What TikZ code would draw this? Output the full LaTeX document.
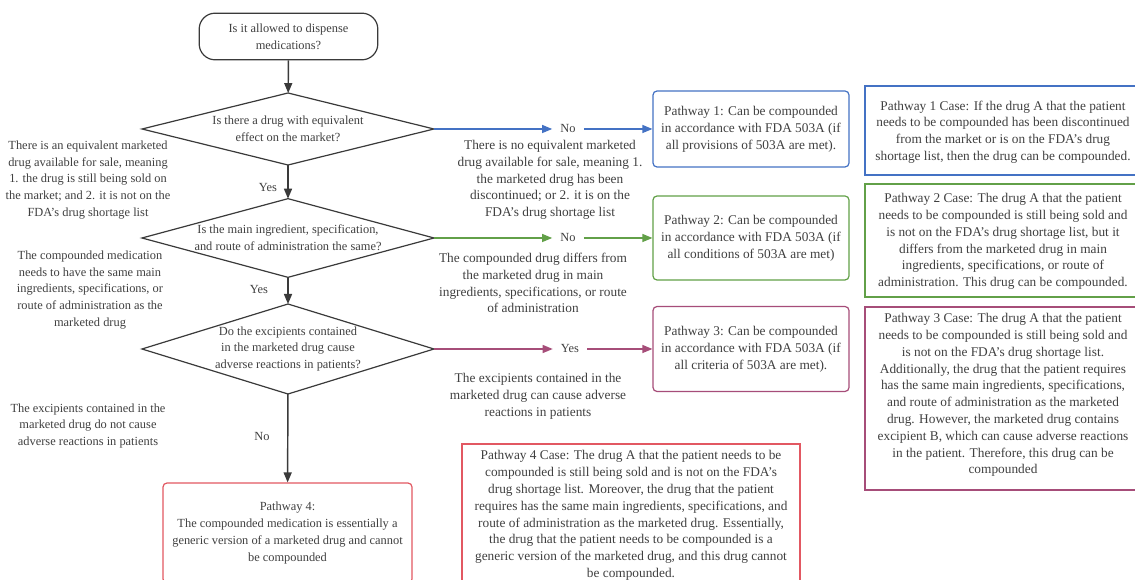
\documentclass[tikz,border=0pt]{standalone}
\usepackage{fontspec}
\setmainfont{Liberation Serif}
\usetikzlibrary{shapes.geometric,arrows.meta}

\definecolor{linegray}{RGB}{58,58,58}
\definecolor{txtgray}{RGB}{64,64,64}
\definecolor{pblue}{RGB}{68,114,196}
\definecolor{pgreen}{RGB}{98,160,72}
\definecolor{ppurple}{RGB}{166,77,121}
\definecolor{pred}{RGB}{226,88,98}

\begin{document}
\begin{tikzpicture}[x=0.75pt,y=-0.75pt,
    every node/.style={font=\fontsize{9.3}{12.6}\selectfont, text=txtgray},
    txt/.style={align=center, inner sep=0pt},
    bigtxt/.style={txt, font=\fontsize{10}{12.6}\selectfont},
    startbox/.style={draw=linegray, line width=0.9pt, rounded corners=12pt,
      minimum width=134pt, minimum height=35pt, align=center},
    decision/.style={diamond, draw=linegray, line width=0.9pt, inner sep=0pt,
      outer sep=0pt, minimum width=219pt},
    pathbox/.style={draw=#1, line width=0.9pt, rounded corners=3pt, align=center,
      minimum width=147pt},
    casebox/.style={draw=#1, line width=0.9pt, align=center, inner sep=0pt},
    mainarrow/.style={draw=linegray, line width=1.1pt,
      -{Triangle[length=7.5pt,width=6pt]}},
    colarrow/.style={draw=#1, line width=0.9pt,
      -{Triangle[length=7.5pt,width=6pt]}, fill=none},
    answer/.style={inner xsep=6pt, inner ysep=2pt}]

    % page
    \clip (0,0) rectangle (1135,580);
    \fill[white] (0,0) rectangle (1135,580);

    % main column
    \node[startbox] (start) at (288.5,36.5) {Is it allowed to dispense\\medications?};

    \node[decision, minimum height=54pt] (q1) at (288,129) {};
    \node[txt] (q1t) at (q1) {Is there a drug with equivalent\\effect on the market?};

    \node[decision, minimum height=59pt] (q2) at (288,238) {};
    \node[txt] (q2t) at (q2) {Is the main ingredient, specification,\\and route of administration the same?};

    \node[decision, minimum height=67.5pt] (q3) at (288,349) {};
    \node[txt] (q3t) at (q3) {Do the excipients contained\\in the marketed drug cause\\adverse reactions in patients?};

    \node[pathbox=pred, minimum width=186.75pt, minimum height=75pt] (p4) at (287.5,533)
      {Pathway 4:\\The compounded medication is essentially a\\generic version of a marketed drug and cannot\\be compounded};

    % arrows down
    \draw[mainarrow] (start) -- (q1);
    \draw[mainarrow] (q1) -- (q2);
    \draw[mainarrow] (q2) -- (q3);
    \draw[mainarrow] (q3) -- (p4);

    \node[txt] (yes1) at (268,188) {Yes};
    \node[txt] (yes2) at (259,290) {Yes};
    \node[txt] (no3) at (262,437) {No};

    % left notes
    \node[txt] (l1) at (88,180) {There is an equivalent marketed\\drug available for sale, meaning\\1. the drug is still being sold on\\the market; and 2. it is not on the\\FDA's drug shortage list};
    \node[txt] (l2) at (90,290) {The compounded medication\\needs to have the same main\\ingredients, specifications, or\\route of administration as the\\marketed drug};
    \node[txt] (l3) at (88,426) {The excipients contained in the\\marketed drug do not cause\\adverse reactions in patients};

    % pathway boxes
    \node[pathbox=pblue, bigtxt, minimum height=57pt] (p1) at (751,129)
      {Pathway 1: Can be compounded\\in accordance with FDA 503A (if\\all provisions of 503A are met).};
    \node[pathbox=pgreen, bigtxt, minimum height=63pt] (p2) at (751,238)
      {Pathway 2: Can be compounded\\in accordance with FDA 503A (if\\all conditions of 503A are met)};
    \node[pathbox=ppurple, bigtxt, minimum height=63.75pt] (p3) at (751,349)
      {Pathway 3: Can be compounded\\in accordance with FDA 503A (if\\all criteria of 503A are met).};

    % side branches
    \node[answer] (no1) at (568,129) {No};
    \node[answer] (no2) at (568,238) {No};
    \node[answer] (yes3) at (570,349) {Yes};

    \draw[colarrow=pblue] (q1.east) -- (no1);
    \draw[colarrow=pblue] (no1) -- (p1);
    \draw[colarrow=pgreen] (q2.east) -- (no2);
    \draw[colarrow=pgreen] (no2) -- (p2);
    \draw[colarrow=ppurple] (q3.east) -- (yes3);
    \draw[colarrow=ppurple] (yes3) -- (p3);

    \node[bigtxt] (n1) at (550,180) {There is no equivalent marketed\\drug available for sale, meaning 1.\\the marketed drug has been\\discontinued; or 2. it is on the\\FDA's drug shortage list};
    \node[bigtxt] (n2) at (533,283) {The compounded drug differs from\\the marketed drug in main\\ingredients, specifications, or route\\of administration};
    \node[bigtxt] (n3) at (538,396) {The excipients contained in the\\marketed drug can cause adverse\\reactions in patients};

    % case boxes
    \node[casebox=pblue, minimum width=206.25pt, minimum height=66.75pt] (c1) at (1002.5,130.5) {};
    \node[bigtxt] (c1t) at (1003,132) {Pathway 1 Case: If the drug A that the patient\\needs to be compounded has been discontinued\\from the market or is on the FDA's drug\\shortage list, then the drug can be compounded.};
    \node[casebox=pgreen, minimum width=206.25pt, minimum height=84.75pt] (c2) at (1002.5,240.5) {};
    \node[bigtxt] (c2t) at (1003,241.5) {Pathway 2 Case: The drug A that the patient\\needs to be compounded is still being sold and\\is not on the FDA's drug shortage list, but it\\differs from the marketed drug in main\\ingredients, specifications, or route of\\administration. This drug can be compounded.};
    \node[casebox=ppurple, minimum width=206.25pt, minimum height=137.25pt] (c3) at (1002.5,398.5) {};
    \node[bigtxt] (c3t) at (1003,395) {Pathway 3 Case: The drug A that the patient\\needs to be compounded is still being sold and\\is not on the FDA's drug shortage list.\\Additionally, the drug that the patient requires\\has the same main ingredients, specifications,\\and route of administration as the marketed\\drug. However, the marketed drug contains\\excipient B, which can cause adverse reactions\\in the patient. Therefore, this drug can be\\compounded};
    \node[casebox=pred, minimum width=253.5pt, minimum height=107.25pt] (c4) at (631,515.5) {};
    \node[bigtxt] (c4t) at (c4) {Pathway 4 Case: The drug A that the patient needs to be\\compounded is still being sold and is not on the FDA's\\drug shortage list. Moreover, the drug that the patient\\requires has the same main ingredients, specifications, and\\route of administration as the marketed drug. Essentially,\\the drug that the patient needs to be compounded is a\\generic version of the marketed drug, and this drug cannot\\be compounded.};
  \end{tikzpicture}
\end{document}
